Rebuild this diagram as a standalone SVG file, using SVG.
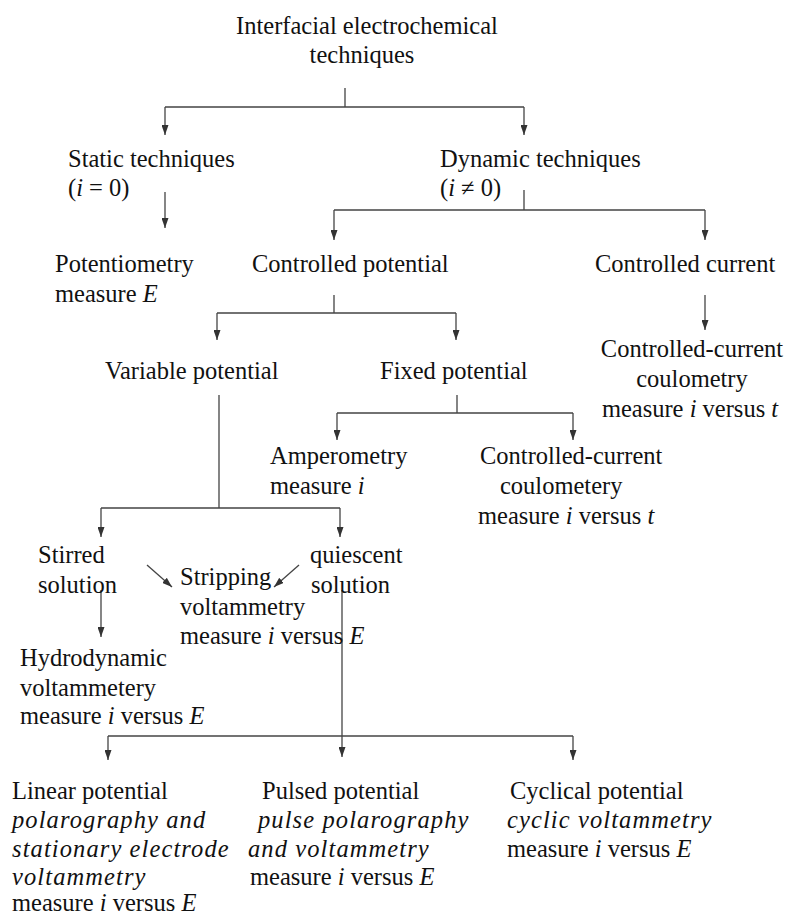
<svg xmlns="http://www.w3.org/2000/svg" width="789" height="917" viewBox="0 0 789 917">
<defs>
<marker id="ah" markerUnits="userSpaceOnUse" markerWidth="10" markerHeight="7" refX="10" refY="3.5" orient="auto">
<path d="M0,0 L10,3.5 L0,7 z" fill="#333"/>
</marker>
<style>
text{font-family:"Liberation Serif","Times New Roman",serif;font-size:24.5px;fill:#111}
.it{font-style:italic}
.il{font-style:italic;letter-spacing:1.1px}
.c{text-anchor:middle}
#connectors path,#connectors line{stroke:#444;stroke-width:1.3;fill:none}
.a{marker-end:url(#ah)}
</style>
</defs>
<rect width="789" height="917" fill="#fff"/>
<g id="connectors">
<path d="M345,88 V107 M165,107 H524"/>
<path class="a" d="M165,107 V135"/>
<path class="a" d="M524,107 V135"/>
<path class="a" d="M165,192 V228"/>
<path d="M524,190 V210 M334,210 H705"/>
<path class="a" d="M334,210 V240"/>
<path class="a" d="M705,210 V240"/>
<path class="a" d="M705,295 V330"/>
<path d="M334,295 V313 M217,313 H456"/>
<path class="a" d="M217,313 V340"/>
<path class="a" d="M456,313 V340"/>
<path d="M457,395 V413 M337,413 H573"/>
<path class="a" d="M337,413 V440"/>
<path class="a" d="M573,413 V440"/>
<path d="M219,395 V508 M101,508 H340"/>
<path class="a" d="M101,508 V537"/>
<path class="a" d="M340,508 V537"/>
<path class="a" d="M147,565 L172,587"/>
<path class="a" d="M299,565 L274,587"/>
<path class="a" d="M101,590 V637"/>
<path class="a" d="M342,590 V757"/>
<path d="M108,736 H573"/>
<path class="a" d="M108,736 V760"/>
<path class="a" d="M573,736 V760"/>
</g>
<g id="root"><text class="c" x="367" y="34">Interfacial electrochemical</text><text class="c" x="362" y="63">techniques</text></g>
<g id="static"><text x="68" y="167">Static techniques</text><text x="68" y="196">(<tspan class="it">i</tspan> = 0)</text></g>
<g id="dynamic"><text x="440" y="167">Dynamic techniques</text><text x="440" y="196">(<tspan class="it">i</tspan> ≠ 0)</text></g>
<g id="potentiometry"><text x="55" y="272">Potentiometry</text><text x="55" y="302">measure <tspan class="it">E</tspan></text></g>
<g id="controlled-potential"><text x="252" y="272">Controlled potential</text></g>
<g id="controlled-current"><text x="595" y="272">Controlled current</text></g>
<g id="cc-coulometry"><text class="c" x="692" y="357">Controlled-current</text><text class="c" x="692" y="387">coulometry</text><text class="c" x="690" y="417">measure <tspan class="it">i</tspan> versus <tspan class="it">t</tspan></text></g>
<g id="variable-potential"><text x="105" y="379">Variable potential</text></g>
<g id="fixed-potential"><text x="380" y="379">Fixed potential</text></g>
<g id="amperometry"><text x="270" y="464">Amperometry</text><text x="270" y="494">measure <tspan class="it">i</tspan></text></g>
<g id="cc-coulometery"><text x="480" y="464">Controlled-current</text><text x="500" y="494">coulometery</text><text x="478" y="524">measure <tspan class="it">i</tspan> versus <tspan class="it">t</tspan></text></g>
<g id="stirred"><text x="38" y="563">Stirred</text><text x="38" y="593">solution</text></g>
<g id="quiescent"><text x="310" y="563">quiescent</text><text x="311" y="593">solution</text></g>
<g id="stripping"><text x="180" y="585">Stripping</text><text x="180" y="615">voltammetry</text><text x="180" y="644">measure <tspan class="it">i</tspan> versus <tspan class="it">E</tspan></text></g>
<g id="hydrodynamic"><text x="20" y="666">Hydrodynamic</text><text x="20" y="696">voltammetery</text><text x="20" y="724">measure <tspan class="it">i</tspan> versus <tspan class="it">E</tspan></text></g>
<g id="linear"><text x="12" y="799">Linear potential</text><text class="il" x="12" y="828">polarography and</text><text class="il" x="12" y="857">stationary electrode</text><text class="il" x="12" y="885">voltammetry</text><text x="12" y="911">measure <tspan class="it">i</tspan> versus <tspan class="it">E</tspan></text></g>
<g id="pulsed"><text x="262" y="799">Pulsed potential</text><text class="il" x="258" y="828"> pulse polarography</text><text class="il" x="248" y="857">and voltammetry</text><text x="250" y="885">measure <tspan class="it">i</tspan> versus <tspan class="it">E</tspan></text></g>
<g id="cyclical"><text x="510" y="799">Cyclical potential</text><text class="il" x="507" y="828">cyclic voltammetry</text><text x="507" y="857">measure <tspan class="it">i</tspan> versus <tspan class="it">E</tspan></text></g>
</svg>
